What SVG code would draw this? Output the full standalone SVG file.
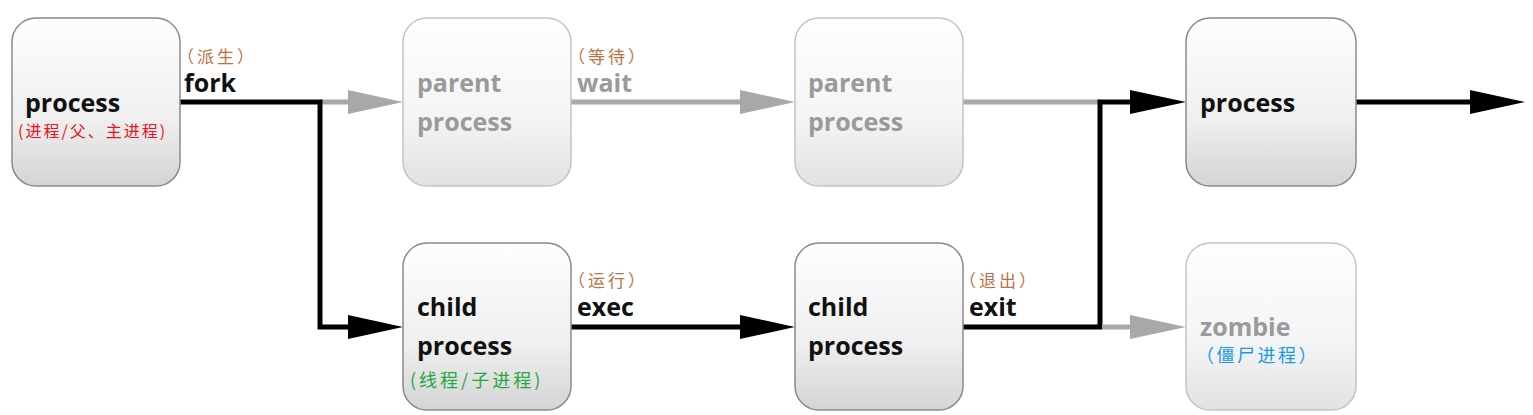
<svg xmlns="http://www.w3.org/2000/svg" width="1533" height="415" viewBox="0 0 1533 415">
<defs>
<linearGradient id="g" x1="0" y1="0" x2="0" y2="1"><stop offset="0" stop-color="#fefefe"/><stop offset="0.6" stop-color="#efefef"/><stop offset="1" stop-color="#d4d4d4"/></linearGradient>
<linearGradient id="gf" x1="0" y1="0" x2="0" y2="1"><stop offset="0" stop-color="#fefefe"/><stop offset="0.6" stop-color="#f4f4f4"/><stop offset="1" stop-color="#e2e2e2"/></linearGradient>
</defs>
<style>
.n{fill:url(#g);stroke:#8a8a8a;stroke-width:1.5}
.nf{fill:url(#gf);stroke:#c4c4c4;stroke-width:1.5}
.t{font-family:"Open Sans","Liberation Sans",sans-serif;font-weight:bold;font-size:25px;fill:#111}
.tf{fill:#9a9a9a}
.c{font-family:"Noto Sans CJK SC",sans-serif;font-size:17px;letter-spacing:3px}
.br{fill:#b87345}
.k{fill:none;stroke:#000;stroke-width:5}
.gy{fill:none;stroke:#a8a8a8;stroke-width:5}
.ak{fill:#000}
.ag{fill:#a8a8a8}
</style>
<g id="connectors">
<path class="gy" d="M320 102H352"/>
<polygon class="ag" points="348,90 403,102 348,114"/>
<path class="k" d="M180 102H320V327H352"/>
<polygon class="ak" points="348,315 403,327 348,339"/>
<path class="gy" d="M571 102H744"/>
<polygon class="ag" points="740,90 795,102 740,114"/>
<path class="k" d="M571 327H744"/>
<polygon class="ak" points="740,315 795,327 740,339"/>
<path class="gy" d="M963 102H1100"/>
<path class="k" d="M963 327H1100V102H1134"/>
<polygon class="ak" points="1130,90 1186,102 1130,114"/>
<path class="gy" d="M1102 327H1134"/>
<polygon class="ag" points="1130,315 1186,327 1130,339"/>
<path class="k" d="M1356 102H1474"/>
<polygon class="ak" points="1470,90 1525,102 1470,114"/>
<text class="c br" x="177" y="63">（派生）</text>
<text class="t" x="184" y="92">fork</text>
<text class="c br" x="568" y="63">（等待）</text>
<text class="t tf" x="577" y="92">wait</text>
<text class="c br" x="568" y="287">（运行）</text>
<text class="t" x="577" y="316">exec</text>
<text class="c br" x="959" y="287">（退出）</text>
<text class="t" x="969" y="316">exit</text>
</g>
<g id="process1">
<rect class="n" x="12" y="18" width="168" height="168" rx="24"/>
<text class="t" x="25" y="112">process</text>
<text class="c" x="18" y="137" fill="#e8141e" style="font-size:16px;letter-spacing:2px">(进程/父、主进程)</text>
</g>
<g id="parent1">
<rect class="nf" x="403" y="18" width="168" height="168" rx="24"/>
<text class="t tf" x="417" y="92">parent</text>
<text class="t tf" x="417" y="131">process</text>
</g>
<g id="parent2">
<rect class="nf" x="795" y="18" width="168" height="168" rx="24"/>
<text class="t tf" x="808" y="92">parent</text>
<text class="t tf" x="808" y="131">process</text>
</g>
<g id="process2">
<rect class="n" x="1186" y="18" width="170" height="168" rx="24"/>
<text class="t" x="1200" y="112">process</text>
</g>
<g id="child1">
<rect class="n" x="403" y="243" width="168" height="167" rx="24"/>
<text class="t" x="417" y="316">child</text>
<text class="t" x="417" y="355">process</text>
<text class="c" x="410" y="387" fill="#1faa3c" style="font-size:18px;letter-spacing:3px">(线程/子进程)</text>
</g>
<g id="child2">
<rect class="n" x="795" y="243" width="168" height="167" rx="24"/>
<text class="t" x="808" y="316">child</text>
<text class="t" x="808" y="355">process</text>
</g>
<g id="zombie">
<rect class="nf" x="1186" y="243" width="170" height="167" rx="24"/>
<text class="t tf" x="1200" y="336">zombie</text>
<text class="c" x="1196" y="362" fill="#1a9ae6" style="font-size:18px;letter-spacing:2.5px">（僵尸进程）</text>
</g>
</svg>
